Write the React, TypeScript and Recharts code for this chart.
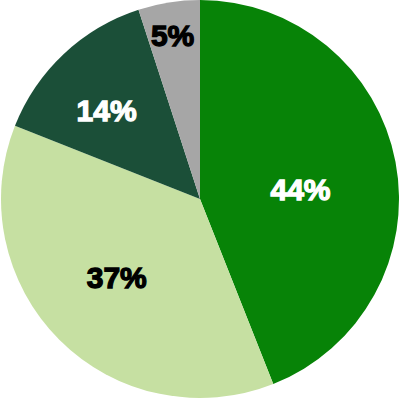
import React from 'react';
import { PieChart, Pie, Cell } from 'recharts';

const categories = ['A', 'B', 'C', 'D'];
const shares = [44, 37, 14, 5];
const colors = ['#078307', '#c6e0a2', '#1b4f38', '#a6a6a6'];
const labelColors = ['#ffffff', '#000000', '#ffffff', '#000000'];

const data = categories.map((name, i) => ({ name, value: shares[i] }));

// label placement tweaks (radius, angle shift in degrees)
const labelRadius = [101, 114, 129, 166];
const labelShift = [-5.2, -1.9, 3.2, 0.5];

const RADIAN = Math.PI / 180;

const renderLabel = (props: any) => {
  const { cx, cy, midAngle, index, value } = props;
  const a = (midAngle + labelShift[index]) * RADIAN;
  const x = cx + labelRadius[index] * Math.cos(a);
  const y = cy - labelRadius[index] * Math.sin(a);
  return (
    <text
      x={x}
      y={y + 11}
      textAnchor="middle"
      fill={labelColors[index]}
      stroke={labelColors[index]}
      strokeWidth={1.3}
      fontFamily="'Liberation Sans', Arial, sans-serif"
      fontWeight={900}
      fontSize={30}
    >
      {`${value}%`}
    </text>
  );
};

export default function App() {
  return (
    <div style={{ position: 'absolute', left: 0, top: 0, width: 400, height: 402 }}>
      <PieChart width={400} height={402} margin={{ top: 0, right: 0, bottom: 0, left: 0 }}>
        <Pie
          data={data}
          dataKey="value"
          cx={200}
          cy={199}
          outerRadius={199}
          startAngle={90}
          endAngle={-270}
          stroke="none"
          label={renderLabel}
          labelLine={false}
          isAnimationActive={false}
        >
          {data.map((entry, i) => (
            <Cell key={`cell-${i}`} fill={colors[i]} />
          ))}
        </Pie>
      </PieChart>
    </div>
  );
}
